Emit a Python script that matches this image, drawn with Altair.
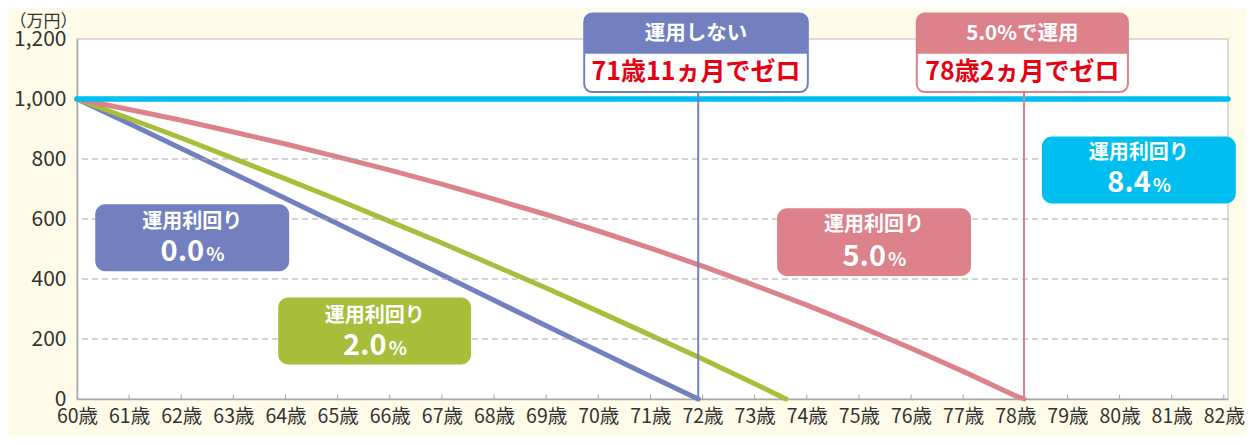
import altair as alt
import pandas as pd

# ---------------- data ----------------
age_ticks = list(range(60, 83))
y_ticks = [0, 200, 400, 600, 800, 1000, 1200]
grid_vals = [200, 400, 600, 800]

# 運用利回り 0.0%
ages_00 = [60, 61, 62, 63, 64, 65, 66, 67, 68, 69, 70, 71, 71.917]
vals_00 = [1000, 918, 835, 752, 668, 584, 499, 414, 329, 244, 160, 76, 0]
# 運用利回り 2.0%
ages_20 = [60, 61, 62, 63, 64, 65, 66, 67, 68, 69, 70, 71, 72, 73, 73.6]
vals_20 = [1000, 935, 870, 802, 734, 664, 592, 520, 445, 370, 292, 213, 133, 51, 0]
# 運用利回り 5.0%
ages_50 = [60, 61, 62, 63, 64, 65, 66, 67, 68, 69, 70, 71, 72, 73, 74, 75, 76, 77, 78, 78.17]
vals_50 = [1000, 965, 929, 890, 850, 807, 763, 716, 666, 615, 560, 503, 443, 379, 313, 243, 169, 92, 11, 0]
# 運用利回り 8.4%
ages_84 = [60, 82.08]
vals_84 = [1000, 1000]

series_names = ["0.0", "2.0", "5.0", "8.4"]
series_colors = ["#7280c0", "#a8bd39", "#dd818b", "#00bff0"]
series_widths = [5, 5, 5, 5.5]

zero_ages = [71.917, 78.167]
zero_heads = ["運用しない", "5.0%で運用"]
zero_texts = ["71歳11ヵ月でゼロ", "78歳2ヵ月でゼロ"]
zero_colors = ["#7280c0", "#dd818b"]

FONT = "Noto Sans CJK JP"

# ---------------- tables ----------------
rows = []
for name, col, w, ages, vals in zip(series_names, series_colors, series_widths,
                                    [ages_00, ages_20, ages_50, ages_84],
                                    [vals_00, vals_20, vals_50, vals_84]):
    for a, v in zip(ages, vals):
        rows.append(dict(s=name, col=col, w=w, x=a, y=v))
lines_df = pd.DataFrame(rows)

# top boxes (annotation layout in data units)
top_box_x = [(69.73, 74.02), (76.11, 80.16)]
top_df = pd.DataFrame(dict(
    col=zero_colors, head=zero_heads, txt=zero_texts, zx=zero_ages,
    x=[b[0] for b in top_box_x], x2=[b[1] for b in top_box_x],
    cx=[(b[0] + b[1]) / 2 for b in top_box_x],
))
top_df["y"] = 1023
top_df["y2"] = 1285
top_df["hy"] = 1151
top_df["ty_head"] = 1216
top_df["ty_txt"] = 1090
top_df["zero"] = 0

# callouts
call_df = pd.DataFrame(dict(
    col=series_colors,
    num=series_names,
    x=[60.35, 63.86, 73.43, 78.51],
    x2=[64.07, 67.56, 77.15, 82.23],
    y=[649, 338, 636, 875],
    y2=[426, 115, 410, 652],
    ty1=[590, 277, 579, 821],
    ty2=[459, 148, 443, 689],
))
call_df["cx"] = (call_df["x"] + call_df["x2"]) / 2
call_df["lab"] = "運用利回り"
call_df["pct"] = "%"


def tri_rows(tid, col, A, B, C):
    pts = sorted([A, B, C], key=lambda p: p[0])
    edges = [(A, B), (B, C), (C, A)]
    out = []
    for px, py in pts:
        ys = []
        for p, q in edges:
            if p[0] == q[0]:
                continue
            if min(p[0], q[0]) - 1e-9 <= px <= max(p[0], q[0]) + 1e-9:
                t = (px - p[0]) / (q[0] - p[0])
                ys.append(p[1] + t * (q[1] - p[1]))
        out.append(dict(id=tid, col=col, x=px, y=max(ys), y2=min(ys)))
    return out


tri = []
tri += tri_rows("b", series_colors[0], (62.07, 640), (62.55, 640), (62.65, 744))
tri += tri_rows("g", series_colors[1], (65.52, 330), (66.10, 330), (66.62, 525))
tri += tri_rows("p", series_colors[2], (74.96, 418), (75.44, 418), (74.73, 295))
tri += tri_rows("c", series_colors[3], (80.24, 865), (80.53, 865), (80.35, 980))
tri_df = pd.DataFrame(tri)

grid_df = pd.DataFrame(dict(y=grid_vals))
tick_df = pd.DataFrame(dict(x=age_ticks[1:]))
tick_df["y"] = 0
tick_df["y2"] = 15

# ---------------- scales & axes ----------------
XS = alt.Scale(domain=[60, 82.08], nice=False, zero=False)
YS = alt.Scale(domain=[0, 1200], nice=False)

x_axis = alt.Axis(values=age_ticks, labelExpr="datum.value + '歳'", ticks=False,
                  grid=False, domainColor="#a6a6a6", domainWidth=1.5,
                  labelFontSize=19.5, labelColor="#333333", labelPadding=8,
                  labelFont=FONT, labelOverlap=False, labelFlush=False, title=None)
y_axis = alt.Axis(values=y_ticks, labelExpr="format(datum.value, ',')", ticks=False, grid=False,
                  domainColor="#a6a6a6", domainWidth=1.5,
                  labelFontSize=21, labelColor="#333333", labelPadding=11,
                  labelFont=FONT, title="（万円）", titleAngle=0, titleAlign="left",
                  titleBaseline="middle", titleX=-68, titleY=-18, titleFontSize=17,
                  titleFontWeight="normal", titleColor="#333333", titleFont=FONT)


def X(f="x"):
    return alt.X(f"{f}:Q", scale=XS, axis=x_axis)


def Y(f="y"):
    return alt.Y(f"{f}:Q", scale=YS, axis=y_axis)


grid = alt.Chart(grid_df).mark_rule(color="#a8a8a8", strokeDash=[6, 4], strokeWidth=1).encode(y=Y())

ticks = alt.Chart(tick_df).mark_rule(color="#a6a6a6", strokeWidth=1).encode(x=X(), y=Y(), y2="y2")

vlines = alt.Chart(top_df).mark_rule(strokeWidth=2).encode(
    x=X("zx"), y=Y("zero"), y2="y", color=alt.Color("col:N", scale=None))

lines = alt.Chart(lines_df).mark_line(strokeCap="round", strokeJoin="round").encode(
    x=X(), y=Y(),
    color=alt.Color("col:N", scale=None),
    strokeWidth=alt.StrokeWidth("w:Q", scale=None),
    detail="s:N",
    order="x:Q",
)

top_outer = alt.Chart(top_df).mark_rect(fill="white", strokeWidth=2, cornerRadius=8).encode(
    x=X(), x2="x2", y=Y(), y2="y2", stroke=alt.Stroke("col:N", scale=None))
top_head = alt.Chart(top_df).mark_rect(cornerRadiusTopLeft=8, cornerRadiusTopRight=8).encode(
    x=X(), x2="x2", y=Y("hy"), y2="y2", color=alt.Color("col:N", scale=None))
top_head_txt = alt.Chart(top_df).mark_text(font=FONT, fontWeight="bold", fontSize=20.5,
                                           color="white", baseline="middle").encode(
    x=X("cx"), y=Y("ty_head"), text="head:N")
top_txt = alt.Chart(top_df).mark_text(font=FONT, fontWeight="bold", fontSize=25,
                                      color="#e60012", baseline="middle").encode(
    x=X("cx"), y=Y("ty_txt"), text="txt:N")

tris = alt.Chart(tri_df).mark_area(orient="vertical").encode(
    x=X(), y=Y(), y2="y2", color=alt.Color("col:N", scale=None), detail="id:N", order="x:Q")
call_box = alt.Chart(call_df).mark_rect(cornerRadius=10).encode(
    x=X(), x2="x2", y=Y(), y2="y2", color=alt.Color("col:N", scale=None))
call_lab = alt.Chart(call_df).mark_text(font=FONT, fontWeight="bold", fontSize=20,
                                        color="white", baseline="middle").encode(
    x=X("cx"), y=Y("ty1"), text="lab:N")
call_num = alt.Chart(call_df).mark_text(font=FONT, fontWeight="bold", fontSize=29,
                                        color="white", baseline="alphabetic", align="right", dx=12).encode(
    x=X("cx"), y=Y("ty2"), text="num:N")
call_pct = alt.Chart(call_df).mark_text(font=FONT, fontWeight="bold", fontSize=19,
                                        color="white", baseline="alphabetic", align="left", dx=14).encode(
    x=X("cx"), y=Y("ty2"), text="pct:N")

chart = alt.layer(
    lines, grid, ticks, vlines, top_outer, top_head, top_head_txt, top_txt,
    tris, call_box, call_lab, call_num, call_pct,
).properties(
    width=1151, height=360,
    padding={"left": 69, "top": 31, "right": 18, "bottom": 37},
    autosize=alt.AutoSizeParams(type="none"),
    background="#fefbe8",
).configure_view(stroke="#cfcfcf", strokeWidth=1.5, fill="white")

chart.save("out.html", embed_options={"renderer": "svg", "actions": False})
